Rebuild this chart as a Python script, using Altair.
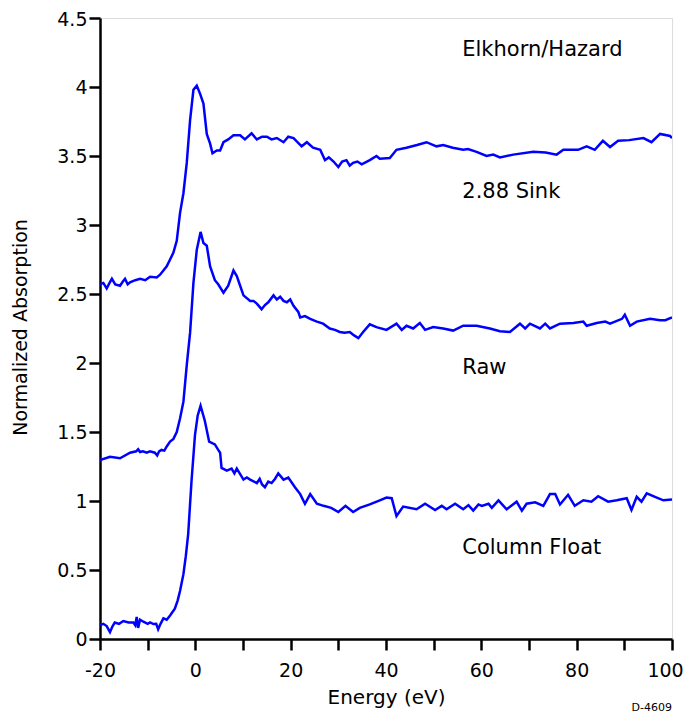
import altair as alt
import pandas as pd

# Spectra (energy eV, normalized absorption)
SINK = [(-20,2.57),(-19.3,2.58),(-18.6,2.54),(-18,2.58),(-17.5,2.61),(-16.8,2.57),(-15.8,2.56),
        (-15.2,2.59),(-14.75,2.61),(-14.2,2.57),(-13.7,2.585),(-12.6,2.60),(-11.6,2.61),(-10.5,2.60),
        (-9.5,2.625),(-8.1,2.62),(-7.4,2.64),(-6.7,2.67),(-6.0,2.70),(-5.3,2.75),(-4.6,2.80),(-3.9,2.885),
        (-3.2,3.09),(-2.5,3.23),(-1.8,3.45),(-1.1,3.76),(-0.4,3.98),(0.3,4.01),(1.0,3.95),(1.7,3.88),
        (2.4,3.66),(3.1,3.59),(3.6,3.52),(4.5,3.54),(5.2,3.54),(5.9,3.60),(6.9,3.62),(8.0,3.65),(9.4,3.65),
        (10.4,3.62),(11.8,3.665),(12.9,3.62),(14.0,3.64),(15.0,3.64),(16.0,3.62),(17.1,3.63),(18.5,3.60),
        (19.5,3.64),(20.6,3.63),(22.3,3.57),(23.4,3.60),(24.7,3.56),(26.2,3.545),(27.2,3.47),(28.0,3.49),
        (29.0,3.46),(30.0,3.42),(30.8,3.46),(31.7,3.47),(32.4,3.43),(33.1,3.45),(34.0,3.46),(34.9,3.44),
        (36.6,3.47),(38.0,3.50),(38.7,3.48),(40.8,3.485),(42.2,3.545),(44.3,3.56),(46.5,3.58),(48.5,3.60),
        (50.6,3.57),(52,3.58),(54,3.56),(56.2,3.545),(57.2,3.55),(59,3.53),(61.1,3.50),(62.5,3.51),
        (63.9,3.49),(66.7,3.51),(70.9,3.53),(73.5,3.525),(75.8,3.51),(77.2,3.545),(80.3,3.545),(82.1,3.57),
        (83.8,3.545),(85.5,3.61),(87,3.565),(88.7,3.61),(91,3.615),(94,3.63),(95.7,3.60),(97.5,3.66),
        (99.6,3.645),(100,3.63)]

RAW = [(-20,1.296),(-17.9,1.32),(-15.8,1.31),(-13.7,1.35),(-12.4,1.36),(-12,1.375),(-11.6,1.355),
       (-11,1.36),(-10.2,1.35),(-9.5,1.36),(-8.5,1.35),(-8,1.33),(-7.6,1.36),(-7.1,1.37),(-6.5,1.365),
       (-6,1.395),(-5.3,1.43),(-4.6,1.45),(-3.9,1.50),(-3.2,1.60),(-2.5,1.72),(-1.8,1.985),(-1.1,2.22),
       (-0.4,2.58),(0.3,2.82),(1.1,2.95),(1.7,2.87),(2.4,2.85),(3.1,2.70),(4.1,2.60),(4.8,2.57),(5.9,2.51),
       (6.9,2.56),(8.0,2.67),(8.7,2.63),(9.4,2.56),(10.1,2.49),(11.5,2.45),(12.2,2.45),(12.9,2.43),
       (13.9,2.39),(14.6,2.42),(15.3,2.44),(16.4,2.49),(17.1,2.46),(17.8,2.48),(18.5,2.45),(19.2,2.44),
       (19.9,2.46),(20.6,2.415),(21.6,2.37),(22,2.33),(23,2.34),(24.1,2.32),(25.5,2.30),(26.8,2.285),
       (28.2,2.25),(29.3,2.24),(30.3,2.225),(31.3,2.22),(32.4,2.225),(33.3,2.20),(34.2,2.18),(35.2,2.225),
       (36.6,2.28),(38,2.26),(40.1,2.24),(42.2,2.285),(43.3,2.24),(44.3,2.27),(45.7,2.25),(47.1,2.29),
       (48.2,2.24),(49.9,2.26),(52,2.25),(54.1,2.235),(56.2,2.27),(59,2.27),(61.8,2.25),(63.9,2.23),
       (66,2.225),(68.1,2.285),(69.2,2.25),(70.2,2.285),(72.3,2.25),(73.4,2.285),(74.4,2.25),(76.5,2.285),
       (79.3,2.29),(81.4,2.30),(82.1,2.27),(84.2,2.29),(86,2.30),(87,2.285),(89.5,2.32),(90.1,2.35),
       (91.2,2.27),(92.6,2.30),(95.4,2.32),(97.5,2.31),(98.6,2.31),(100,2.33)]

FLOAT = [(-20,0.10),(-19.3,0.11),(-18.6,0.094),(-17.9,0.05),(-17.4,0.09),(-16.9,0.12),(-16,0.11),
         (-15.1,0.13),(-14,0.12),(-13,0.12),(-12.6,0.10),(-12.3,0.16),(-12,0.08),(-11.6,0.14),(-10.9,0.125),
         (-10,0.11),(-9.5,0.12),(-8.8,0.108),(-8.2,0.11),(-7.8,0.07),(-7.3,0.11),(-6.7,0.15),(-6,0.14),
         (-5.3,0.17),(-4.3,0.22),(-3.7,0.28),(-3.2,0.35),(-2.5,0.47),(-2,0.60),(-1.5,0.76),(-0.8,1.145),
         (-0.07,1.48),(0.5,1.62),(1.1,1.69),(2.0,1.58),(2.9,1.43),(4.1,1.41),(4.8,1.37),(5.2,1.35),
         (5.5,1.24),(6.6,1.22),(7.6,1.235),(8.2,1.20),(8.7,1.235),(10.1,1.155),(10.8,1.17),(11.5,1.155),
         (12.9,1.13),(13.5,1.16),(14.0,1.12),(14.6,1.10),(15.3,1.14),(16.0,1.13),(16.7,1.16),(17.4,1.20),
         (18.5,1.155),(19.5,1.17),(20.9,1.10),(22,1.05),(23,0.98),(24.1,1.05),(25.5,0.98),(26.9,0.965),
         (28.5,0.95),(30,0.92),(31.5,0.965),(33.1,0.92),(34.5,0.95),(36.6,0.975),(38.7,1.005),(40.1,1.025),
         (41.2,1.02),(42.2,0.89),(43.6,0.96),(46.4,0.94),(48.2,0.98),(50.3,0.935),(51.7,0.965),(52.7,0.94),
         (54.5,0.98),(56.2,0.94),(57.3,0.97),(58.3,0.93),(59.4,0.975),(60.1,0.965),(61.5,0.98),(62.2,0.95),
         (63.6,1.005),(65.3,0.94),(67.4,0.995),(68.5,0.93),(69.5,0.98),(71.3,0.99),(73,0.965),(74.4,1.05),
         (75.5,1.05),(76.5,0.975),(78.2,1.045),(79.6,0.965),(81.4,1.005),(83.1,0.995),(84.5,1.035),
         (86.6,0.995),(88.4,1.005),(90.5,1.02),(91.5,0.935),(92.6,1.03),(93.6,0.995),(94.7,1.055),
         (96.8,1.025),(98.2,1.005),(100,1.01)]

LABEL_TEXT = ["Elkhorn/Hazard", "2.88 Sink", "Raw", "Column Float"]
LABEL_X = [56, 56, 56, 56]
LABEL_Y = [4.226, 3.197, 1.922, 0.619]

X_TICKS = list(range(-20, 101, 10))
Y_TICKS = [0, 0.5, 1, 1.5, 2, 2.5, 3, 3.5, 4, 4.5]

rows = []
for name, pts in [("2.88 Sink", SINK), ("Raw", RAW), ("Column Float", FLOAT)]:
    for i, (e, a) in enumerate(pts):
        rows.append({"series": name, "idx": i, "energy": e, "absorption": a})
df = pd.DataFrame(rows)

FONT = "DejaVu Sans"

xscale = alt.Scale(domain=[-20, 100], nice=False, zero=False)
yscale = alt.Scale(domain=[0, 4.5], nice=False, zero=False)

lines = alt.Chart(df).mark_line(color="#0000FF", strokeWidth=2.5, clip=True).encode(
    x=alt.X("energy:Q", scale=xscale, axis=alt.Axis(
        title="Energy (eV)", values=X_TICKS,
        labelExpr="datum.value % 20 == 0 ? '' + datum.value : ''",
        labelOffset={"condition": {"test": "datum.value == 100", "value": -7}, "value": 0},
        titleFont=FONT, titleFontSize=20, titleFontWeight="normal", titleColor="black",
        titleY=58, titleBaseline="middle",
        labelFont=FONT, labelFontSize=19, labelColor="black", labelPadding=11,
        domainColor="black", domainWidth=2.5, tickColor="black", tickWidth=2.5, tickSize=11,
        grid=False, labelFlush=False)),
    y=alt.Y("absorption:Q", scale=yscale, axis=alt.Axis(
        title="Normalized Absorption", values=Y_TICKS,
        labelExpr="'' + datum.value",
        labelOffset={"condition": {"test": "datum.value == 4.5", "value": 1}, "value": 0},
        titleFont=FONT, titleFontSize=19, titleFontWeight="normal", titleColor="black",
        titleX=-80, titleY=309, titleAngle=-90, titleBaseline="middle", titleAlign="center",
        labelFont=FONT, labelFontSize=19, labelColor="black", labelPadding=2,
        domainColor="black", domainWidth=2.5, tickColor="black", tickWidth=2.5, tickSize=11,
        grid=False, labelFlush=False)),
    detail="series:N",
    order="idx:Q",
)

labels_df = pd.DataFrame({"text": LABEL_TEXT, "x": LABEL_X, "y": LABEL_Y})
labels = alt.Chart(labels_df).mark_text(
    align="left", baseline="alphabetic", font=FONT, fontSize=21, color="black"
).encode(x=alt.X("x:Q", scale=xscale), y=alt.Y("y:Q", scale=yscale), text="text:N")

code_df = pd.DataFrame({"text": ["D-4609"], "x": [100], "y": [-0.52]})
code = alt.Chart(code_df).mark_text(
    align="right", baseline="alphabetic", font=FONT, fontSize=11, color="black"
).encode(x=alt.X("x:Q", scale=xscale), y=alt.Y("y:Q", scale=yscale), text="text:N")

chart = alt.layer(lines, labels, code).properties(
    width=572, height=621,
    autosize=alt.AutoSizeParams(type="none"),
    padding={"left": 92, "top": 10, "right": 11, "bottom": 75},
).configure_view(stroke="black", strokeWidth=2.5).configure(background="white")

chart.save("out.html", embed_options={"renderer": "svg", "actions": False})
